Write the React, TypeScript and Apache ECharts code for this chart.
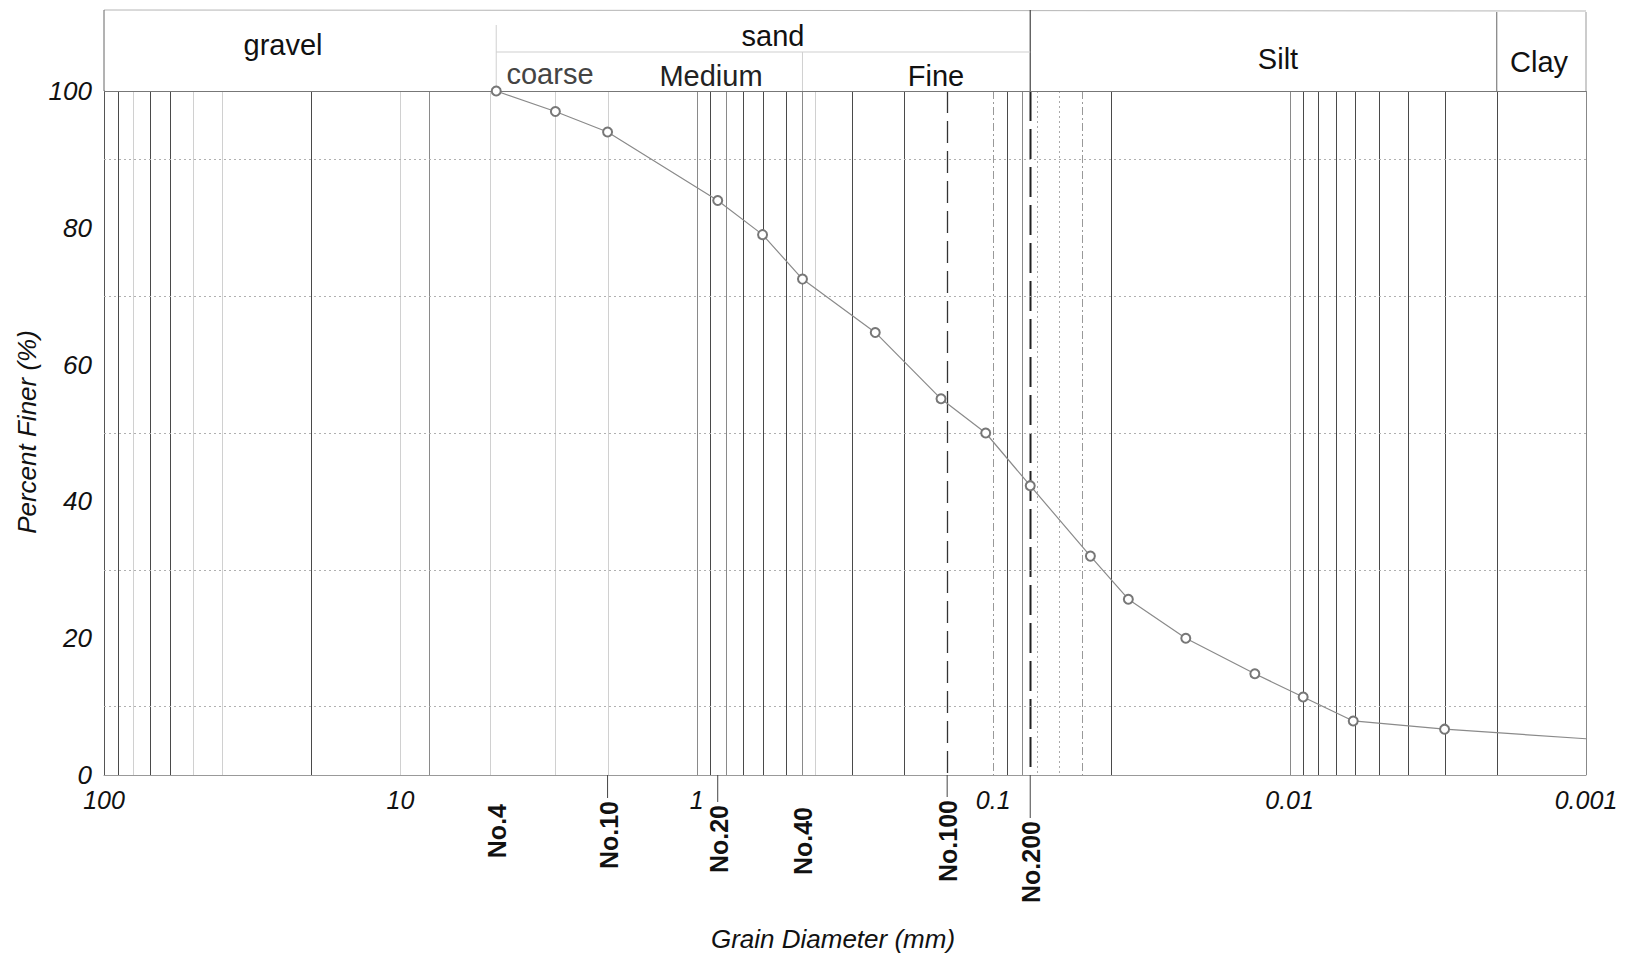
import React, { useEffect, useRef } from "react";
import * as echarts from "echarts";

// ---- data ----
const grainDiameter = [4.75, 3.0, 2.0, 0.85, 0.6, 0.44, 0.25, 0.15, 0.106, 0.075, 0.047, 0.035, 0.0224, 0.0131, 0.009, 0.0061, 0.003, 0.001];
const percentFiner = [100, 97, 94, 84, 79, 72.5, 64.7, 55, 50, 42.3, 32, 25.7, 20, 14.8, 11.4, 7.9, 6.7, 5.3];

const sieveNames = ["No.4", "No.10", "No.20", "No.40", "No.100", "No.200"];
const sieveSizes = [4.75, 2.0, 0.85, 0.44, 0.143, 0.075];
const sieveLabelTop = [804, 801, 805, 807, 800, 821];

// printed grid lines of the form (mm)
const darkGridLines = [90, 70, 60, 20, 0.9, 0.7, 0.6, 0.5, 0.3, 0.2, 0.09, 0.04, 0.009, 0.008, 0.007, 0.006, 0.005, 0.004, 0.003, 0.002];
const midGridLines = [8, 1, 0.8, 0.44, 0.08, 0.01];
const faintGridLines = [80, 50, 40, 10, 5, 3, 2, 0.4];
const dashDotGridLines = [0.1, 0.05];
const dottedGridLines = [0.071, 0.06];
const dashedSieveLines = [0.143];
const thickDashedLines = [0.075];
const borderLines = [0.001];
const dottedPercentLines = [10, 30, 50, 70, 90];

const yTicks = [0, 20, 40, 60, 80, 100];

const FONT = "'Liberation Sans', Arial, Helvetica, sans-serif";

function fmtLog(v: number): string {
  const n = Math.round(Math.log10(v));
  return n >= 0 ? String(Math.pow(10, n)) : Math.pow(10, n).toFixed(-n);
}

export default function App() {
  const ref = useRef<HTMLDivElement>(null);

  useEffect(() => {
    if (!ref.current) return;
    const chart = echarts.init(ref.current, undefined, { renderer: "svg" });

    const markData: any[] = [
      ...dottedPercentLines.map((p) => ({ yAxis: p, lineStyle: { color: "#b0b0b0", width: 1, type: [2, 3] } })),
      { yAxis: 100, lineStyle: { color: "#777", width: 1, type: "solid" } },
    ];

    const option: any = {
      animation: false,
      backgroundColor: "#fff",
      grid: { left: 104, top: 91, right: 45, bottom: 182, containLabel: false },
      xAxis: {
        type: "log",
        logBase: 10,
        min: 0.001,
        max: 100,
        inverse: true,
        axisLine: { show: true, lineStyle: { color: "#999", width: 1 } },
        axisTick: { show: false },
        splitLine: { show: false },
        minorTick: { show: false },
        axisLabel: {
          formatter: (v: number) => fmtLog(v),
          fontStyle: "italic",
          fontFamily: FONT,
          fontSize: 25,
          color: "#111",
          margin: 12,
        },
      },
      yAxis: {
        type: "value",
        min: 0,
        max: 100,
        interval: 20,
        axisLine: { show: true, lineStyle: { color: "#555", width: 1 } },
        axisTick: { show: false },
        splitLine: { show: false },
        axisLabel: {
          fontStyle: "italic",
          fontFamily: FONT,
          fontSize: 26,
          color: "#111",
          margin: 12,
          formatter: (v: number) => (yTicks.includes(v) ? String(v) : ""),
        },
      },
      series: [
        {
          type: "line",
          data: [],
          silent: true,
          markLine: {
            silent: true,
            symbol: ["none", "none"],
            label: { show: false },
            data: markData,
          },
        },
        {
          type: "line",
          data: grainDiameter.map((d, i) => ({
            value: [d, percentFiner[i]],
            symbol: i === grainDiameter.length - 1 ? "none" : "emptyCircle",
          })),
          symbolSize: 9,
          itemStyle: { color: "#777", borderWidth: 1 },
          lineStyle: { color: "#8a8a8a", width: 1.2 },
          z: 5,
        },
      ],
    };

    chart.setOption(option);

    const px = (v: number) => chart.convertToPixel({ xAxisIndex: 0 }, v) as number;
    const py = (v: number) => chart.convertToPixel({ yAxisIndex: 0 }, v) as number;
    const xLeft = px(100);
    const xRight = px(0.001);
    const yTop = py(100);
    const yBot = py(0);
    const headerTop = 10;

    const headText = (text: string, x: number, y: number, color = "#111", size = 29) => ({
      type: "text",
      x,
      y,
      style: { text, fill: color, font: `${size}px ${FONT}`, textAlign: "center", textVerticalAlign: "middle" },
      z: 10,
    });

    const ln = (x1: number, y1: number, x2: number, y2: number, stroke: string, lineWidth = 1, lineDash?: number[], z = 3) => ({
      type: "line",
      shape: { x1, y1, x2, y2 },
      style: { stroke, lineWidth, lineDash },
      silent: true,
      z,
    });

    const vGrid = (vals: number[], stroke: string, w: number, dash?: number[]) =>
      vals.map((v) => {
        const x = Math.round(px(v)) + 0.5;
        return ln(x, yTop, x, yBot, stroke, w, dash, 1);
      });

    const graphics: any[] = [
      ...vGrid(faintGridLines, "#d0d0d0", 1),
      ...vGrid(midGridLines, "#8a8a8a", 1),
      ...vGrid(darkGridLines, "#4a4a4a", 1),
      ...vGrid(dashDotGridLines, "#999", 1, [8, 3, 2, 3]),
      ...vGrid(dottedGridLines, "#aaa", 1, [2, 3]),
      ...vGrid(dashedSieveLines, "#333", 1.3, [22, 8]),
      ...vGrid(thickDashedLines, "#222", 2, [30, 8]),
      ...vGrid(borderLines, "#888", 1),
      // header frame
      ln(xLeft, headerTop, xRight, headerTop + 1, "#b5b5b5", 1),
      ln(xLeft, headerTop, xLeft, yTop, "#666", 1),
      ln(xRight, headerTop + 2, xRight, yTop, "#999", 1),
      ln(px(0.075), headerTop, px(0.075), yTop, "#444", 1.2),
      ln(px(0.002), headerTop + 2, px(0.002), yTop, "#666", 1),
      ln(px(4.75), 25, px(4.75), yTop, "#d0d0d0", 1),
      ln(px(4.75), 52, px(0.075), 52, "#cfcfcf", 1),
      ln(px(0.44), 52, px(0.44), yTop, "#d0d0d0", 1),
      // header labels
      headText("gravel", 283, 45),
      headText("sand", 773, 36),
      headText("coarse", 550, 74, "#444"),
      headText("Medium", 711, 76, "#222"),
      headText("Fine", 936, 76),
      headText("Silt", 1278, 59),
      headText("Clay", 1539, 62),
      // axis titles
      {
        type: "text",
        x: 27,
        y: 432,
        rotation: Math.PI / 2,
        style: { text: "Percent Finer (%)", fill: "#111", font: `italic 26px ${FONT}`, textAlign: "center", textVerticalAlign: "middle" },
      },
      {
        type: "text",
        x: 833,
        y: 939,
        style: { text: "Grain Diameter (mm)", fill: "#111", font: `italic 26px ${FONT}`, textAlign: "center", textVerticalAlign: "middle" },
      },
    ];

    sieveNames.forEach((name, i) => {
      const x = px(sieveSizes[i]);
      if (i !== 0 && i !== 3) {
        graphics.push(ln(x, yBot, x, sieveLabelTop[i] - 3, "#444", 1));
      }
      graphics.push({
        type: "text",
        x: x + 1,
        y: sieveLabelTop[i],
        rotation: Math.PI / 2,
        style: {
          text: name,
          fill: "#111",
          font: `bold 25px ${FONT}`,
          textAlign: "right",
          textVerticalAlign: "middle",
        },
        z: 10,
      });
    });

    chart.setOption({ graphic: graphics });

    return () => chart.dispose();
  }, []);

  return (
    <div
      ref={ref}
      style={{ position: "fixed", left: 0, top: 0, width: 1631, height: 957, background: "#fff" }}
    />
  );
}
